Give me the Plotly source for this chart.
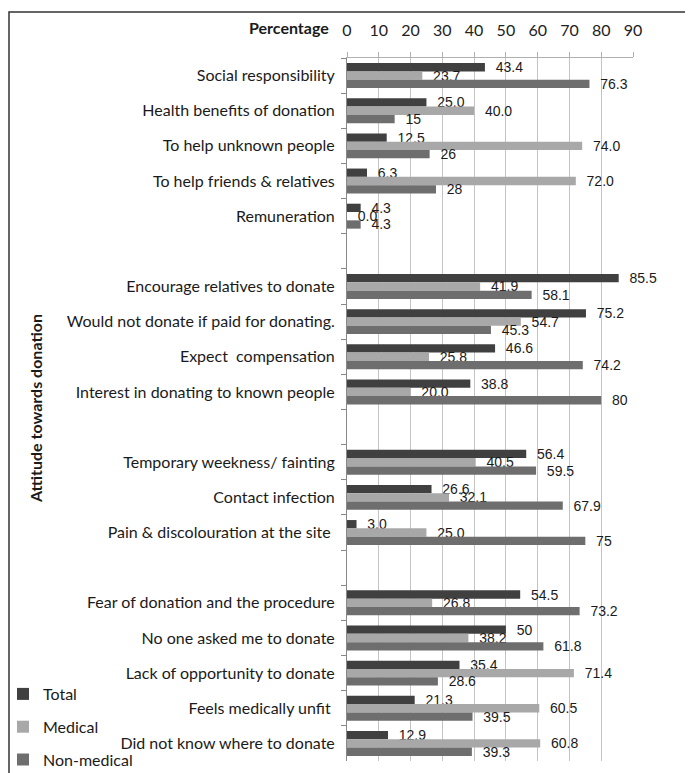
import plotly.graph_objects as go

categories = [
    "Social responsibility", "Health benefits of donation", "To help unknown people",
    "To help friends & relatives", "Remuneration", " ",
    "Encourage relatives to donate", "Would not donate if paid for donating.",
    "Expect  compensation", "Interest in donating to known people", "  ",
    "Temporary weekness/ fainting", "Contact infection", "Pain & discolouration at the site ", "   ",
    "Fear of donation and the procedure", "No one asked me to donate",
    "Lack of opportunity to donate", "Feels medically unfit ", "Did not know where to donate",
]
total = [43.4, 25.0, 12.5, 6.3, 4.3, None, 85.5, 75.2, 46.6, 38.8, None,
         56.4, 26.6, 3.0, None, 54.5, 50, 35.4, 21.3, 12.9]
total_txt = ["43.4", "25.0", "12.5", "6.3", "4.3", "", "85.5", "75.2", "46.6", "38.8", "",
             "56.4", "26.6", "3.0", "", "54.5", "50", "35.4", "21.3", "12.9"]
medical = [23.7, 40.0, 74.0, 72.0, 0.0, None, 41.9, 54.7, 25.8, 20.0, None,
           40.5, 32.1, 25.0, None, 26.8, 38.2, 71.4, 60.5, 60.8]
medical_txt = ["23.7", "40.0", "74.0", "72.0", "0.0", "", "41.9", "54.7", "25.8", "20.0", "",
               "40.5", "32.1", "25.0", "", "26.8", "38.2", "71.4", "60.5", "60.8"]
nonmed = [76.3, 15, 26, 28, 4.3, None, 58.1, 45.3, 74.2, 80, None,
          59.5, 67.9, 75, None, 73.2, 61.8, 28.6, 39.5, 39.3]
nonmed_txt = ["76.3", "15", "26", "28", "4.3", "", "58.1", "45.3", "74.2", "80", "",
              "59.5", "67.9", "75", "", "73.2", "61.8", "28.6", "39.5", "39.3"]
x_ticks = [0, 10, 20, 30, 40, 50, 60, 70, 80, 90]

# page offset of the figure (default body margin)
O = 8
W, H = 693 - O, 773 - O
# plot area in page pixels
L, R, T, B = 347, 633, 58, 761
ML, MR, MT, MB = L - O, (O + W) - R, T - O, (O + H) - B
pw = R - L
ph = B - T

def px_x(p):
    return (p - L) / pw

def px_y(p):
    return 1 - (p - T) / ph

series = [
    ("Total", total, total_txt, "#404040"),
    ("Medical", medical, medical_txt, "#a8a8a8"),
    ("Non-medical", nonmed, nonmed_txt, "#6e6e6e"),
]

fig = go.Figure()
for i, (name, vals, txt, col) in enumerate(series):
    fig.add_trace(go.Bar(
        y=categories, x=vals, name=name, orientation="h",
        marker=dict(color=col, line=dict(width=0)),
        text=["  " + t if t else "" for t in txt], textposition="outside",
        constraintext="none", cliponaxis=False,
        textfont=dict(family="Liberation Sans", size=14, color="#1a1a1a"),
        legendgroup=name,
    ))

fig.update_layout(
    width=W, height=H,
    margin=dict(l=ML, r=MR, t=MT, b=MB, autoexpand=False),
    paper_bgcolor="white", plot_bgcolor="white",
    barmode="group", bargap=0.29, bargroupgap=0,
    font=dict(family="Lato", size=14, color="#1a1a1a"),
    showlegend=True,
    legend=dict(x=px_x(O - 5), y=px_y(677), xanchor="left", yanchor="top",
                traceorder="grouped", tracegroupgap=9,
                font=dict(family="Lato", size=16, color="#1a1a1a"),
                bgcolor="rgba(0,0,0,0)", itemwidth=30),
    xaxis=dict(side="top", range=[0, 90], tickvals=x_ticks,
               showgrid=True, gridcolor="#c4c4c4", gridwidth=1,
               ticks="outside", ticklen=5, tickcolor="#b0b0b0",
               showline=True, linecolor="#b0b0b0", linewidth=1,
               zeroline=False, ticklabelstandoff=10,
               tickfont=dict(family="Lato", size=16, color="#222")),
    yaxis=dict(type="category", categoryorder="array", categoryarray=categories,
               autorange="reversed", tickson="boundaries",
               ticks="outside", ticklen=5, tickcolor="#888",
               showline=True, linecolor="#888", linewidth=1,
               showgrid=False, ticklabelstandoff=8,
               tickfont=dict(family="Lato", size=16, color="#1a1a1a")),
)

fig.add_annotation(text="<b>Percentage</b>", xref="paper", yref="paper",
                   x=px_x(331), y=px_y(28), xanchor="right", yanchor="middle",
                   showarrow=False, font=dict(family="Lato", size=16, color="#1a1a1a"))
fig.add_annotation(text="<b>Attitude towards donation</b>", xref="paper", yref="paper",
                   x=px_x(35), y=px_y(409), xanchor="center", yanchor="middle",
                   textangle=-90, showarrow=False,
                   font=dict(family="Lato", size=16, color="#1a1a1a"))

fig.add_shape(type="rect", xref="paper", yref="paper",
              x0=px_x(9), x1=px_x(720), y0=px_y(800), y1=px_y(12),
              line=dict(color="#333", width=1.5), fillcolor="rgba(0,0,0,0)", layer="below")

fig.write_html("out.html")
